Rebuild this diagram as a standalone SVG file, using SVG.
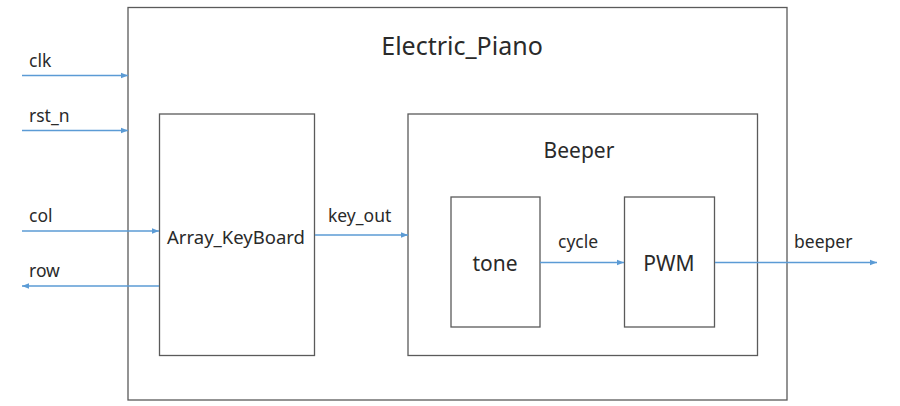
<svg xmlns="http://www.w3.org/2000/svg" width="900" height="406" viewBox="0 0 900 406">
<style>
.box{fill:#fff;stroke:#5a5a5a;stroke-width:1.3}
.w{fill:none;stroke:#5b9bd5;stroke-width:1.5}
text{font-family:"Noto Sans","Open Sans","DejaVu Sans",sans-serif;fill:#2a2a2a}
.s{font-size:17.5px}
.m{font-size:18.5px;text-anchor:middle}
.l{font-size:21px;text-anchor:middle}
</style>
<defs>
<marker id="ah" viewBox="0 0 10 10" refX="10" refY="5" markerWidth="7" markerHeight="7" markerUnits="userSpaceOnUse" orient="auto"><path d="M0,1 L10,5 L0,9 Z" fill="#5b9bd5"/></marker>
</defs>
<rect width="900" height="406" fill="#fff"/>
<g id="Electric_Piano"><rect class="box" x="128" y="7.5" width="659" height="392.5"/><text x="462" y="55" style="font-size:25px;text-anchor:middle">Electric_Piano</text></g>
<g id="Array_KeyBoard"><rect class="box" x="159.5" y="114" width="155" height="241.5"/><text class="m" x="236" y="244">Array_KeyBoard</text></g>
<g id="Beeper"><rect class="box" x="408" y="114" width="349.5" height="241.5"/><text class="l" x="579" y="158">Beeper</text></g>
<g id="tone"><rect class="box" x="451" y="197" width="89" height="130"/><text class="l" x="495" y="271">tone</text></g>
<g id="PWM"><rect class="box" x="624.5" y="197" width="90" height="130"/><text class="l" x="669" y="271">PWM</text></g>
<g id="connectors">
<line class="w" x1="22" y1="75.5" x2="128" y2="75.5" marker-end="url(#ah)"/>
<line class="w" x1="22" y1="130.5" x2="128" y2="130.5" marker-end="url(#ah)"/>
<line class="w" x1="22" y1="231" x2="159" y2="231" marker-end="url(#ah)"/>
<line class="w" x1="159" y1="286" x2="22" y2="286" marker-end="url(#ah)"/>
<line class="w" x1="315" y1="235" x2="408" y2="235" marker-end="url(#ah)"/>
<line class="w" x1="540" y1="262.5" x2="624" y2="262.5" marker-end="url(#ah)"/>
<line class="w" x1="715" y1="262.5" x2="877" y2="262.5" marker-end="url(#ah)"/>
</g>
<g id="labels">
<text class="s" x="29" y="67">clk</text>
<text class="s" x="29" y="122">rst_n</text>
<text class="s" x="29" y="222">col</text>
<text class="s" x="29" y="277">row</text>
<text class="s" x="328" y="222">key_out</text>
<text class="s" x="558" y="248">cycle</text>
<text class="s" x="794" y="248">beeper</text>
</g>
</svg>
